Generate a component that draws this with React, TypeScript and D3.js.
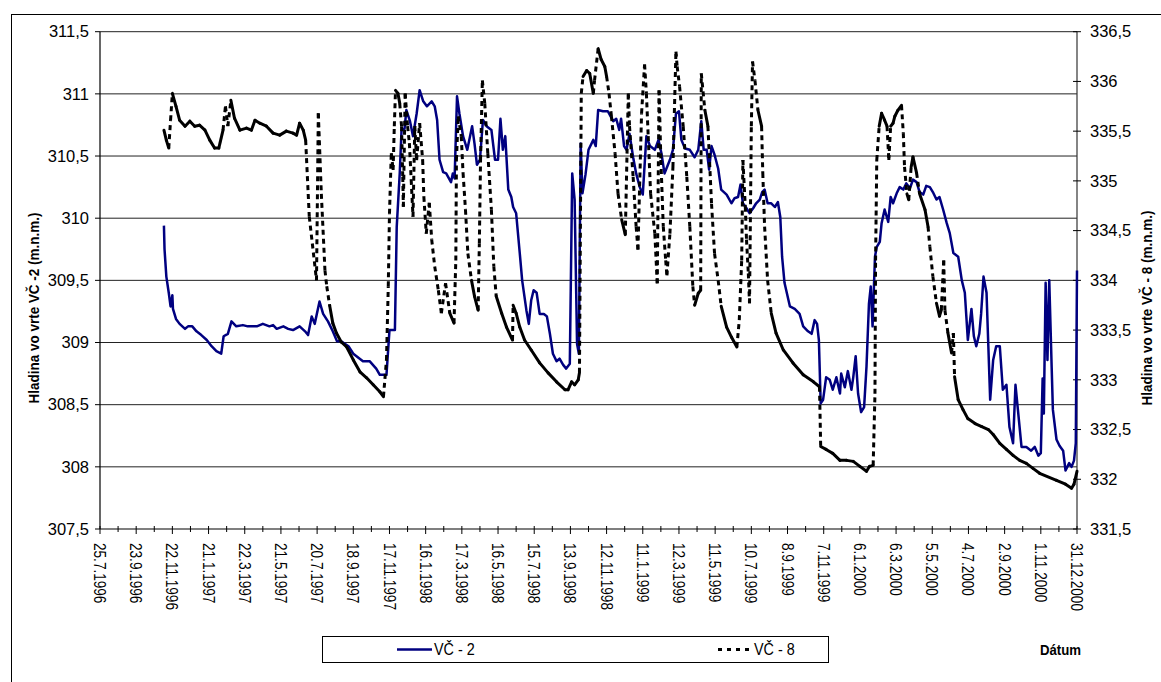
import React from "react";
import * as d3 from "d3";

const startDate = "1996-07-25";
const endDate = "2000-12-31";
const tickStepDays = 30;
const leftTicks = [307.5, 308, 308.5, 309, 309.5, 310, 310.5, 311, 311.5];
const rightTicks = [331.5, 332, 332.5, 333, 333.5, 334, 334.5, 335, 335.5, 336, 336.5];

const vc2Dates = [
  "1996-11-08","1996-11-09","1996-11-12","1996-11-16","1996-11-19","1996-11-22","1996-11-23","1996-11-28","1996-12-04","1996-12-13","1996-12-18","1996-12-25",
  "1997-01-01","1997-01-09","1997-01-18","1997-01-26","1997-02-03","1997-02-11","1997-02-15","1997-02-22","1997-02-28","1997-03-08","1997-03-19","1997-03-27",
  "1997-04-11","1997-04-21","1997-05-02","1997-05-08","1997-05-14","1997-05-25","1997-06-02","1997-06-10","1997-06-21","1997-06-30","1997-07-05","1997-07-11",
  "1997-07-16","1997-07-24","1997-07-30","1997-08-07","1997-08-15","1997-08-22","1997-08-29","1997-09-10","1997-09-18","1997-10-04","1997-10-15","1997-10-26",
  "1997-11-01","1997-11-12","1997-11-17","1997-11-26","1997-11-29","1997-12-04","1997-12-07","1997-12-12","1997-12-15","1997-12-21","1997-12-26",
  "1998-01-01","1998-01-06","1998-01-12","1998-01-18","1998-01-26","1998-01-31","1998-02-04","1998-02-08","1998-02-14","1998-02-19","1998-02-27",
  "1998-03-02","1998-03-05","1998-03-09","1998-03-13","1998-03-19","1998-03-26","1998-04-03","1998-04-07","1998-04-11","1998-04-16","1998-04-21","1998-04-27",
  "1998-05-05","1998-05-11","1998-05-16","1998-05-20","1998-05-24","1998-05-28","1998-06-02","1998-06-07","1998-06-10","1998-06-15","1998-06-21","1998-06-25",
  "1998-07-02","1998-07-06","1998-07-10","1998-07-14","1998-07-19","1998-07-24","1998-07-31","1998-08-05","1998-08-10","1998-08-15","1998-08-21","1998-08-26",
  "1998-09-01","1998-09-06","1998-09-12","1998-09-16","1998-09-20","1998-09-24","1998-09-27","1998-09-30","1998-10-03","1998-10-08","1998-10-13","1998-10-21",
  "1998-10-25","1998-10-29","1998-11-06","1998-11-14","1998-11-23","1998-11-28","1998-12-03","1998-12-06","1998-12-11","1998-12-15","1998-12-20","1998-12-26",
  "1998-12-31","1999-01-06","1999-01-11","1999-01-17","1999-01-23","1999-01-31","1999-02-06","1999-02-11","1999-02-16","1999-02-25","1999-03-02","1999-03-07",
  "1999-03-12","1999-03-16","1999-03-22","1999-03-30","1999-04-07","1999-04-13","1999-04-18","1999-04-22","1999-04-27","1999-05-01","1999-05-05","1999-05-10",
  "1999-05-16","1999-05-21","1999-05-30","1999-06-07","1999-06-12","1999-06-18","1999-06-22","1999-06-26","1999-07-02","1999-07-07","1999-07-13","1999-07-18",
  "1999-07-24","1999-07-28","1999-08-01","1999-08-06","1999-08-12","1999-08-18","1999-08-23","1999-08-27","1999-08-30","1999-09-03","1999-09-12","1999-09-20",
  "1999-09-28","1999-10-04","1999-10-12","1999-10-18","1999-10-23","1999-10-27","1999-10-30","1999-11-02","1999-11-06","1999-11-11","1999-11-17","1999-11-22",
  "1999-11-28","1999-12-04","1999-12-06","1999-12-12","1999-12-17","1999-12-23","1999-12-26","1999-12-30","2000-01-03","2000-01-08","2000-01-13","2000-01-17",
  "2000-01-21","2000-01-24","2000-01-27","2000-01-31","2000-02-03","2000-02-08","2000-02-11","2000-02-16","2000-02-22","2000-02-26","2000-03-01","2000-03-07",
  "2000-03-12","2000-03-18","2000-03-23","2000-03-29","2000-04-03","2000-04-09","2000-04-14","2000-04-20","2000-04-25","2000-05-01","2000-05-06","2000-05-12",
  "2000-05-17","2000-05-23","2000-05-29","2000-06-03","2000-06-09","2000-06-17","2000-06-23","2000-06-28","2000-07-03","2000-07-09","2000-07-13","2000-07-17",
  "2000-07-22","2000-07-25","2000-07-29","2000-08-03","2000-08-06","2000-08-09","2000-08-14","2000-08-19","2000-08-25","2000-08-30","2000-09-05","2000-09-10",
  "2000-09-16","2000-09-20","2000-09-24","2000-09-30","2000-10-08","2000-10-16","2000-10-22","2000-10-28","2000-11-01","2000-11-04","2000-11-06","2000-11-09",
  "2000-11-12","2000-11-15","2000-11-19","2000-11-21","2000-11-27","2000-12-02","2000-12-08","2000-12-12","2000-12-18","2000-12-22","2000-12-26","2000-12-29",
  "2000-12-31"
];
const vc2Values = [
  309.94,309.75,309.53,309.40,309.29,309.38,309.27,309.19,309.15,309.11,309.13,309.13,
  309.09,309.06,309.02,308.97,308.93,308.91,309.05,309.07,309.17,309.13,309.14,309.13,
  309.13,309.15,309.13,309.14,309.11,309.13,309.11,309.10,309.13,309.09,309.06,309.21,
  309.15,309.33,309.23,309.17,309.09,309.01,309.01,308.97,308.91,308.85,308.85,308.79,
  308.74,308.74,309.10,309.10,309.93,310.36,310.71,310.72,310.87,310.78,310.66,
  310.84,311.03,310.94,310.90,310.94,310.90,310.79,310.47,310.37,310.36,310.29,
  310.36,310.32,310.98,310.84,310.66,310.55,310.74,310.60,310.43,310.47,310.79,310.74,
  310.71,310.47,310.47,310.80,310.55,310.66,310.23,310.17,310.09,310.04,309.72,309.50,
  309.26,309.15,309.34,309.42,309.40,309.23,309.23,309.21,309.07,308.91,308.85,308.87,
  308.82,308.79,308.83,310.36,310.15,308.99,308.91,310.60,310.20,310.35,310.55,310.63,
  310.58,310.87,310.86,310.86,310.78,310.80,310.71,310.80,310.58,310.55,310.68,310.49,
  310.36,310.25,310.19,310.66,310.58,310.55,310.63,310.52,310.36,310.47,310.55,310.84,
  310.86,310.63,310.56,310.55,310.49,310.55,310.78,310.55,310.55,310.39,310.58,310.51,
  310.40,310.23,310.19,310.12,310.16,310.17,310.27,310.12,310.08,310.04,310.08,310.12,
  310.15,310.21,310.23,310.12,310.12,310.09,310.13,310.01,309.69,309.48,309.29,309.27,
  309.23,309.13,309.09,309.07,309.18,309.15,309.02,308.51,308.54,308.72,308.70,308.62,
  308.72,308.59,308.75,308.64,308.77,308.62,308.72,308.89,308.59,308.44,308.48,308.81,
  309.31,309.45,309.13,309.69,309.77,309.81,309.96,310.07,309.97,310.17,310.12,310.20,
  310.25,310.23,310.28,310.24,310.31,310.29,310.21,310.19,310.26,310.25,310.21,310.15,
  310.17,310.07,309.96,309.88,309.72,309.69,309.50,309.40,309.02,309.27,309.05,308.97,
  309.07,309.23,309.53,309.40,308.97,308.54,308.86,308.97,308.97,308.62,308.66,308.32,
  308.19,308.66,308.46,308.16,308.16,308.13,308.16,308.09,308.11,308.71,308.43,309.48,
  308.86,309.50,308.80,308.46,308.22,308.17,308.13,307.97,308.03,308.00,308.05,308.19,
  309.58
];

const vc8Dates = [
  "1996-11-08","1996-11-12","1996-11-16","1996-11-19","1996-11-22","1996-11-28","1996-12-04","1996-12-13","1996-12-21","1996-12-29",
  "1997-01-06","1997-01-15","1997-01-23","1997-01-31","1997-02-07","1997-02-14","1997-02-18","1997-02-22","1997-02-27","1997-03-05",
  "1997-03-14","1997-03-25","1997-04-02","1997-04-08","1997-04-16","1997-04-27","1997-05-08","1997-05-19","1997-05-30","1997-06-10",
  "1997-06-16","1997-06-21","1997-06-27","1997-07-01","1997-07-07","1997-07-19","1997-07-22","1997-07-27","1997-08-02","1997-08-05",
  "1997-08-10","1997-08-15","1997-08-21","1997-08-29","1997-09-07","1997-09-18","1997-09-29","1997-10-10","1997-10-21","1997-11-01",
  "1997-11-07","1997-11-12","1997-11-15","1997-11-17","1997-11-20","1997-11-23","1997-11-25","1997-11-27","1997-12-01","1997-12-04",
  "1997-12-07","1997-12-09","1997-12-10","1997-12-13","1997-12-17","1997-12-20","1997-12-23","1997-12-26","1997-12-29","1998-01-01",
  "1998-01-06","1998-01-11","1998-01-13","1998-01-17","1998-01-22","1998-01-26","1998-01-31","1998-02-06","1998-02-11","1998-02-18",
  "1998-02-25","1998-03-04","1998-03-07","1998-03-08","1998-03-11","1998-03-16","1998-03-19","1998-03-23","1998-03-27","1998-04-02",
  "1998-04-07","1998-04-13","1998-04-15","1998-04-17","1998-04-20","1998-04-24","1998-04-29","1998-05-05","1998-05-09","1998-05-13",
  "1998-05-22","1998-05-30","1998-06-09","1998-06-10","1998-06-15","1998-06-21","1998-06-29","1998-07-10","1998-07-24","1998-08-07",
  "1998-08-21","1998-09-04","1998-09-09","1998-09-15","1998-09-20","1998-09-26","1998-09-28","1998-10-01","1998-10-04","1998-10-10",
  "1998-10-15","1998-10-21","1998-10-23","1998-10-29","1998-11-03","1998-11-09","1998-11-12","1998-11-16","1998-11-20","1998-11-26",
  "1998-12-01","1998-12-07","1998-12-13","1998-12-18","1998-12-20","1998-12-26","1998-12-31","1999-01-03","1999-01-09","1999-01-14",
  "1999-01-17","1999-01-20","1999-01-24","1999-01-31","1999-02-04","1999-02-07","1999-02-10","1999-02-14","1999-02-18","1999-02-20",
  "1999-02-25","1999-03-02","1999-03-07","1999-03-09","1999-03-13","1999-03-19","1999-03-25","1999-03-30","1999-04-04","1999-04-07",
  "1999-04-13","1999-04-17","1999-04-18","1999-04-24","1999-04-29","1999-05-05","1999-05-10","1999-05-16","1999-05-21","1999-05-30",
  "1999-06-07","1999-06-16","1999-06-20","1999-06-24","1999-06-26","1999-06-30","1999-07-02","1999-07-05","1999-07-07","1999-07-10",
  "1999-07-12","1999-07-16","1999-07-21","1999-07-27","1999-07-29","1999-08-01","1999-08-06","1999-08-12","1999-08-20","1999-09-01",
  "1999-09-17","1999-10-04","1999-10-21","1999-10-31","1999-11-02","1999-11-11","1999-11-22","1999-12-04","1999-12-15","1999-12-26",
  "2000-01-06","2000-01-17","2000-01-22","2000-01-28","2000-01-31","2000-02-01","2000-02-03","2000-02-07","2000-02-11","2000-02-16",
  "2000-02-20","2000-02-23","2000-02-26","2000-03-01","2000-03-04","2000-03-09","2000-03-15","2000-03-18","2000-03-20","2000-03-24",
  "2000-03-27","2000-03-31","2000-04-03","2000-04-09","2000-04-14","2000-04-23","2000-04-28","2000-05-01","2000-05-06","2000-05-12",
  "2000-05-17","2000-05-20","2000-05-24","2000-05-26","2000-05-31","2000-06-06","2000-06-09","2000-06-11","2000-06-17","2000-06-25",
  "2000-07-03","2000-07-15","2000-07-26","2000-08-06","2000-08-14","2000-08-25","2000-09-05","2000-09-16","2000-09-27","2000-10-08",
  "2000-10-19","2000-10-30","2000-11-27","2000-12-12","2000-12-22","2000-12-26","2000-12-31"
];
const vc8Values = [
  335.51,335.41,335.33,335.61,335.88,335.75,335.61,335.55,335.60,335.55,
  335.56,335.51,335.41,335.33,335.33,335.51,335.75,335.55,335.81,335.63,
  335.51,335.53,335.51,335.61,335.58,335.55,335.48,335.46,335.50,335.48,
  335.46,335.58,335.51,335.41,334.64,334.00,335.68,334.87,334.10,333.94,
  333.74,333.57,333.47,333.38,333.33,333.20,333.08,333.02,332.95,332.88,
  332.83,333.20,333.94,334.67,335.28,335.11,335.55,335.91,335.88,335.78,
  335.55,335.04,334.74,335.88,335.55,335.38,335.01,334.64,335.55,335.21,
  335.58,335.21,334.84,334.47,334.78,334.41,334.14,333.90,333.67,333.97,
  333.67,333.57,334.20,335.21,335.65,335.45,335.08,334.71,334.27,334.00,
  333.84,333.70,334.37,335.21,336.01,335.78,335.28,334.71,334.14,333.84,
  333.67,333.53,333.40,333.75,333.67,333.53,333.40,333.30,333.17,333.07,
  332.98,332.90,332.90,332.98,332.95,333.00,333.07,335.88,336.05,336.11,
  336.08,335.88,336.01,336.33,336.22,336.15,336.05,335.88,335.65,335.28,
  334.87,334.61,334.46,335.88,335.55,335.04,334.54,334.31,335.68,336.17,
  335.88,335.45,334.87,334.47,333.97,335.91,335.21,334.54,334.20,334.05,
  334.47,335.14,336.30,336.15,335.95,335.55,335.04,334.54,333.94,333.75,
  333.87,333.90,336.08,335.71,335.55,334.77,334.27,334.00,333.74,333.53,
  333.43,333.33,333.60,334.20,335.21,334.74,334.41,334.07,333.77,335.55,
  336.20,336.01,335.71,335.55,335.08,334.54,334.00,333.67,333.47,333.30,
  333.17,333.05,332.98,332.93,332.33,332.30,332.26,332.19,332.19,332.18,
  332.13,332.08,332.13,332.14,332.86,334.20,335.21,335.55,335.68,335.61,
  335.55,335.21,335.55,335.58,335.65,335.71,335.76,335.48,335.14,334.87,
  334.81,335.14,335.24,335.08,334.87,334.71,334.54,334.34,334.04,333.77,
  333.64,333.70,334.20,333.70,333.47,333.27,333.47,333.03,332.80,332.70,
  332.61,332.56,332.53,332.50,332.45,332.36,332.30,332.24,332.19,332.16,
  332.11,332.06,331.99,331.95,331.91,331.95,332.08
];

const FONT = "'Liberation Sans', Arial, sans-serif";

export default function App() {
  const parse = d3.utcParse("%Y-%m-%d");
  const t0 = parse(startDate) as Date;
  const t1 = parse(endDate) as Date;
  const left = 100, right = 1077, top = 31.7, bottom = 529;
  const x = d3.scaleUtc().domain([t0, t1]).range([left, right]);
  const yL = d3.scaleLinear().domain([307.5, 311.5]).range([bottom, top]);
  const yR = d3.scaleLinear().domain([331.5, 336.5]).range([bottom, top]);
  const fmtDate = d3.utcFormat("%-d.%-m.%Y");
  const fmtNum = (v: number) => String(v).replace(".", ",");

  const nTicks = Math.round(d3.utcDay.count(t0, t1) / tickStepDays);
  const xTicks = d3.range(nTicks + 1).map((i) => d3.utcDay.offset(t0, i * tickStepDays));

  const vc2 = vc2Dates.map((d, i) => ({ date: parse(d) as Date, v: vc2Values[i] }));
  const vc8 = vc8Dates.map((d, i) => ({ date: parse(d) as Date, v: vc8Values[i] }));

  const line2 = d3.line<{ date: Date; v: number }>()
    .x((d) => x(d.date))
    .y((d) => yL(d.v));

  const segs8 = vc8.slice(1).map((p, i) => {
    const a = vc8[i];
    const x1 = x(a.date), y1 = yR(a.v), x2 = x(p.date), y2 = yR(p.v);
    const days = Math.max(1, d3.utcDay.count(a.date, p.date));
    const len = Math.hypot(x2 - x1, y2 - y1);
    return { x1, y1, x2, y2, dashed: len / days > 4 };
  });

  return (
    <svg width={1161} height={682} style={{ position: "absolute", left: 0, top: 0, background: "#fff" }} fontFamily={FONT}>
      <rect x={0} y={0} width={1161} height={682} fill="#fff" />
      <rect x={11.5} y={14.5} width={1160} height={680} fill="none" stroke="#000" strokeWidth={1} />

      {/* gridlines */}
      {leftTicks.slice(1).map((t) => (
        <line key={"g" + t} x1={left} x2={right} y1={yL(t)} y2={yL(t)} stroke="#222" strokeWidth={1} />
      ))}

      {/* left axis */}
      <line x1={left} x2={left} y1={top} y2={bottom} stroke="#000" strokeWidth={1.2} />
      {leftTicks.map((t) => (
        <g key={"l" + t}>
          <line x1={left - 5} x2={left} y1={yL(t)} y2={yL(t)} stroke="#000" />
          <text x={89} y={yL(t)} dy="0.35em" textAnchor="end" fontSize={16.5} fill="#000">{fmtNum(t)}</text>
        </g>
      ))}

      {/* right axis */}
      <line x1={right} x2={right} y1={top} y2={bottom} stroke="#333" strokeWidth={1.2} />
      {rightTicks.map((t) => (
        <g key={"r" + t}>
          <line x1={right - 4} x2={right + 4} y1={yR(t)} y2={yR(t)} stroke="#000" />
          <text x={1090} y={yR(t)} dy="0.35em" textAnchor="start" fontSize={16.5} fill="#000">{fmtNum(t)}</text>
        </g>
      ))}

      {/* x axis */}
      <line x1={left} x2={right} y1={bottom} y2={bottom} stroke="#000" strokeWidth={1.2} />
      {xTicks.map((t, i) => {
        const major = i % 2 === 0;
        const xx = x(t);
        return (
          <g key={"x" + i}>
            <line x1={xx} x2={xx} y1={bottom - 3} y2={bottom + (major ? 5 : 3)} stroke="#000" />
            {major && (
              <text
                transform={`translate(${xx},543) rotate(90) scale(0.8,1)`}
                dy="0.35em"
                textAnchor="start"
                fontSize={17}
                fill="#000"
              >
                {fmtDate(t)}
              </text>
            )}
          </g>
        );
      })}

      {/* series VČ-2 */}
      <path d={line2(vc2) || ""} fill="none" stroke="#000080" strokeWidth={2.5} strokeLinejoin="round" />

      {/* series VČ-8 */}
      {segs8.map((s, i) => (
        <line
          key={"s" + i}
          x1={s.x1} y1={s.y1} x2={s.x2} y2={s.y2}
          stroke="#000"
          strokeWidth={3}
          strokeDasharray={s.dashed ? "5,4" : undefined}
          strokeLinecap={s.dashed ? "butt" : "round"}
        />
      ))}

      {/* axis titles */}
      <text transform="translate(39,308) rotate(-90) scale(0.93,1)" textAnchor="middle" fontSize={14.5} fontWeight="bold" fill="#000">
        Hladina vo vrte VČ -2 (m.n.m.)
      </text>
      <text transform="translate(1152,308) rotate(-90) scale(0.93,1)" textAnchor="middle" fontSize={14.5} fontWeight="bold" fill="#000">
        Hladina vo vrte VČ - 8 (m.n.m.)
      </text>

      {/* legend */}
      <rect x={322.5} y={636.5} width={506} height={26} fill="#fff" stroke="#000" strokeWidth={1} />
      <line x1={397} x2={432} y1={649.5} y2={649.5} stroke="#000080" strokeWidth={2.5} />
      <text x={434} y={649.5} dy="0.35em" fontSize={16} fill="#000" transform="translate(434,0) scale(0.9,1) translate(-434,0)">VČ - 2</text>
      <line x1={718} x2={753} y1={649.5} y2={649.5} stroke="#000" strokeWidth={3} strokeDasharray="4,5" />
      <text x={754} y={649.5} dy="0.35em" fontSize={16} fill="#000" transform="translate(754,0) scale(0.9,1) translate(-754,0)">VČ - 8</text>
      <text x={1040} y={649.5} dy="0.35em" fontSize={15} fontWeight="bold" fill="#000" transform="translate(1040,0) scale(0.88,1) translate(-1040,0)">Dátum</text>
    </svg>
  );
}
